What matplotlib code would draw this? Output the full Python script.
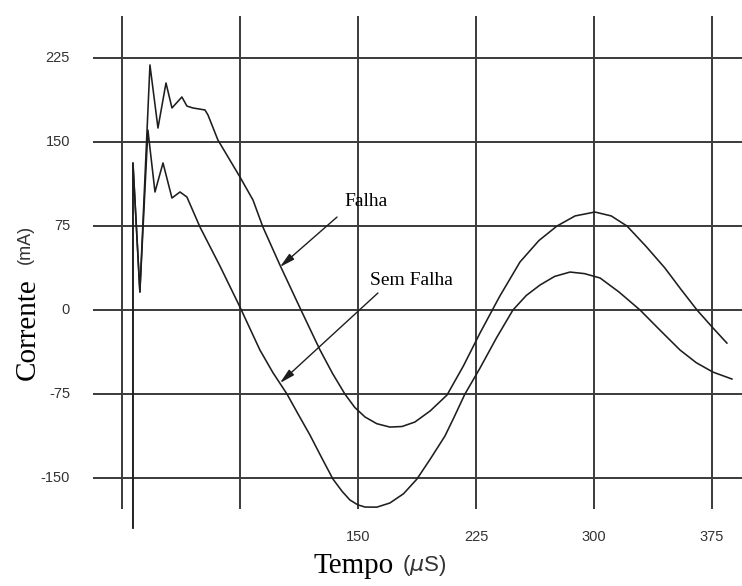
import numpy as np
import matplotlib.pyplot as plt

# ----- Data -----
tempo_falha = [7.0, 7.0, 11.4, 17.8, 22.9, 28.0, 31.8, 38.1, 41.3, 45.1, 52.8, 54.7,
               61.0, 68.6, 75.0, 83.3, 89.6, 100.4, 113.8, 125.9, 134.0, 141.7,
               148.0, 154.5, 162.0, 170.3, 178.0, 186.2, 196.0, 206.6, 217.0,
               227.6, 240.0, 253.0, 265.0, 276.5, 288.0, 300.6, 311.0, 321.0,
               333.0, 345.1, 355.0, 365.5, 375.0, 384.5]
corrente_falha = [-194.6, 131.3, 16.1, 218.8, 162.5, 202.7, 180.4, 190.2, 182.1,
                  180.4, 178.6, 174.1, 151.8, 133.9, 118.8, 98.2, 74.1, 40.2, 0.0,
                  -35.7, -57.0, -75.0, -87.0, -95.5, -101.5, -104.5, -104.0,
                  -100.0, -90.0, -75.9, -50.0, -20.5, 12.0, 42.9, 62.0, 75.0,
                  84.0, 87.5, 84.0, 75.0, 57.0, 37.5, 19.0, 0.0, -15.0, -29.5]

tempo_sem = [7.0, 7.0, 11.4, 16.5, 21.0, 26.1, 31.8, 36.9, 41.3, 49.6, 62.3, 75.0,
             87.7, 96.0, 104.9, 112.0, 119.5, 127.0, 134.1, 140.0, 144.9, 150.0,
             154.5, 162.0, 170.3, 179.0, 187.5, 196.0, 205.3, 211.0, 218.0,
             227.6, 238.0, 248.5, 257.0, 265.7, 275.0, 284.8, 294.0, 303.9,
             316.0, 329.3, 342.0, 354.7, 365.0, 375.6, 387.7]
corrente_sem = [-194.6, 131.3, 16.1, 160.7, 105.4, 131.3, 100.0, 105.4, 100.9, 74.1,
                39.3, 2.7, -35.7, -56.0, -75.0, -93.0, -111.6, -132.0, -150.9,
                -162.0, -169.6, -174.0, -175.9, -176.0, -172.3, -164.0, -150.9,
                -133.0, -112.5, -96.0, -75.0, -51.8, -25.0, 0.0, 13.0, 22.3, 30.0,
                33.9, 32.5, 28.6, 16.0, 0.0, -18.0, -35.7, -47.0, -55.4, -61.6]

y_ticks = [225, 150, 75, 0, -75, -150]
x_grid = [0, 75, 150, 225, 300, 375]
x_tick_labels = [150, 225, 300, 375]

# ----- Plot setup -----
fig = plt.figure(figsize=(7.42, 5.86), dpi=100)
ax = fig.add_axes([0, 0, 1, 1])
# axes cover the whole figure, limits chosen so the grid sits where it does in the picture
ax.set_xlim(-77.5, 394.1)
ax.set_ylim(-246.4, 276.8)
ax.axis('off')

grid_color = '#3a3a3a'
ax.hlines(y_ticks, -18.4, 394.1, color=grid_color, lw=1.4, zorder=1)
ax.vlines(x_grid, -178.0, 262.5, color=grid_color, lw=1.4, zorder=1)

ax.plot(tempo_falha, corrente_falha, color='#1e1e1e', lw=1.15, zorder=3)
ax.plot(tempo_sem, corrente_sem, color='#1e1e1e', lw=1.15, zorder=3)

# tick labels
for v in y_ticks:
    ax.text(-33.0, v, str(v), ha='right', va='center', fontsize=10.5,
            family='Liberation Sans', color='#333333')
for v in x_tick_labels:
    ax.text(v, -203.0, str(v), ha='center', va='center', fontsize=10.5,
            family='Liberation Sans', color='#333333')

# axis labels (serif word + sans unit, as in the original)
fig.text(0.037, 0.352, 'Corrente', rotation=90, ha='center', va='bottom',
         fontsize=21, family='Liberation Serif')
fig.text(0.034, 0.55, '(mA)', rotation=90, ha='center', va='bottom',
         fontsize=13, family='Liberation Sans', color='#333333')
fig.text(0.422, 0.012, 'Tempo', ha='left', va='bottom',
         fontsize=21, family='Liberation Serif')
fig.text(0.542, 0.014, '($\\mu$S)', ha='left', va='bottom',
         fontsize=16, family='Liberation Sans', color='#333333')

# annotations
arrow = dict(arrowstyle='-|>,head_width=0.22,head_length=0.9', color='#1e1e1e',
             lw=1.0, shrinkA=0, shrinkB=0)
ax.annotate('', xy=(100.4, 38.4), xytext=(136.7, 83.0), arrowprops=arrow, zorder=4)
ax.annotate('', xy=(100.4, -65.2), xytext=(162.7, 15.2), arrowprops=arrow, zorder=4)
ax.text(155.1, 97.3, 'Falha', ha='center', va='center', fontsize=14,
        family='Liberation Serif')
ax.text(183.7, 26.8, 'Sem Falha', ha='center', va='center', fontsize=14,
        family='Liberation Serif')

fig.savefig('out.png', dpi=100)
